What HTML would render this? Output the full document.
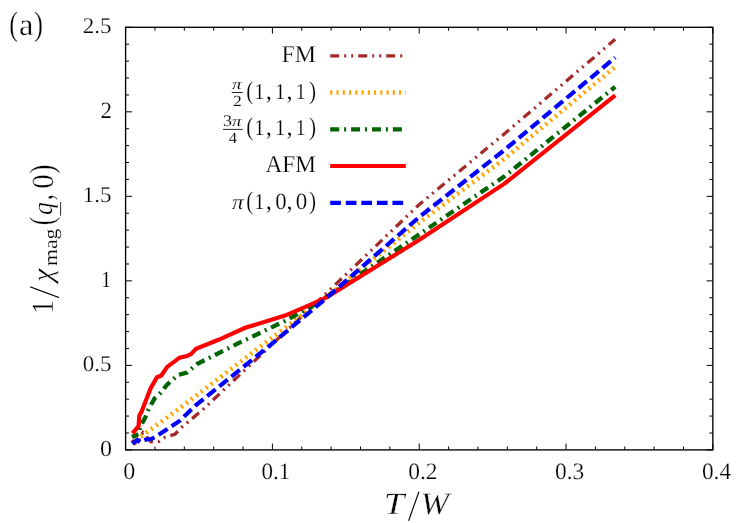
<!DOCTYPE html>
<html><head><meta charset="utf-8"><title>chart</title>
<style>html,body{margin:0;padding:0;background:#fff;width:747px;height:523px;overflow:hidden}</style>
</head><body>
<svg width="747" height="523" viewBox="0 0 747 523" style="position:absolute;left:0;top:0">
<rect width="747" height="523" fill="#fff"/>
<path d="M131.9 440.1 L134.8 443.4 L137.2 440.8 L138.8 443.4 L139.8 437.0 L142.9 432.6 L151.0 441.8 L159.2 441.4 L165.0 437.3 L174.9 434.2 L181.8 427.3 L202.8 409.6 L326.5 293.1 L419.4 204.4 L504.8 133.5 L615.2 39.3" fill="none" stroke="#a52a2a" stroke-width="3.3" stroke-linejoin="miter" stroke-dasharray="9 5 2 5 2 5" stroke-dashoffset="0"/>
<path d="M330.2 55.8 H405.8" fill="none" stroke="#a52a2a" stroke-width="3.3" stroke-dasharray="9 5 2 5 2 5"/>
<path d="M131.6 440.9 L142.9 435.3 L177.4 410.0 L269.0 340.0 L326.5 296.6 L419.4 222.6 L504.8 158.5 L615.2 66.9" fill="none" stroke="#ffa500" stroke-width="4.5" stroke-linejoin="miter" stroke-dasharray="2.2 4.03" stroke-dashoffset="2.27"/>
<path d="M330.2 92.6 H405.8" fill="none" stroke="#ffa500" stroke-width="4.5" stroke-dasharray="2.15 4.108"/>
<path d="M132.0 436.9 L138.9 434.1 L140.0 426.9 L144.9 418.4 L148.8 408.8 L154.8 398.1 L160.8 392.7 L166.8 384.9 L178.0 375.0 L187.0 372.5 L197.0 364.0 L238.5 343.2 L285.0 320.9 L311.2 306.8 L326.5 297.0 L419.4 234.3 L504.8 176.1 L615.2 86.8" fill="none" stroke="#006400" stroke-width="4.3" stroke-linejoin="miter" stroke-dasharray="9 4.895 2 4.895" stroke-dashoffset="2.11"/>
<path d="M330.2 129.3 H405.8" fill="none" stroke="#006400" stroke-width="4.3" stroke-dasharray="9 4.94 2 4.94"/>
<path d="M132.5 433.4 L138.6 426.1 L139.3 415.6 L141.6 411.5 L146.1 400.1 L150.8 388.0 L157.0 377.2 L161.4 375.5 L167.2 366.9 L179.6 357.6 L187.0 356.1 L191.3 353.9 L196.1 348.7 L218.5 339.8 L245.2 327.8 L285.0 315.6 L311.2 304.4 L326.5 297.3 L419.4 239.8 L504.8 183.4 L615.2 95.3" fill="none" stroke="#ff0000" stroke-width="4.2" stroke-linejoin="miter"/>
<path d="M330.2 166.0 H405.8" fill="none" stroke="#ff0000" stroke-width="4.2"/>
<path d="M132.3 443.6 L137.3 440.0 L140.2 442.3 L145.5 439.8 L152.0 438.7 L155.5 436.6 L167.4 429.1 L180.2 420.4 L195.4 405.6 L270.0 345.4 L326.5 297.9 L419.4 216.9 L504.8 149.7 L615.2 57.5" fill="none" stroke="#0000ff" stroke-width="4.2" stroke-linejoin="miter" stroke-dasharray="10.7 4.87" stroke-dashoffset="1.11"/>
<path d="M330.2 202.8 H405.8" fill="none" stroke="#0000ff" stroke-width="4.2" stroke-dasharray="10.7 4.86"/>
<path d="M125.60 449.9 v-6.3 M125.60 27.3 v6.3 M154.96 449.9 v-3.4 M154.96 27.3 v3.4 M184.32 449.9 v-3.4 M184.32 27.3 v3.4 M213.69 449.9 v-3.4 M213.69 27.3 v3.4 M243.05 449.9 v-3.4 M243.05 27.3 v3.4 M272.41 449.9 v-6.3 M272.41 27.3 v6.3 M301.77 449.9 v-3.4 M301.77 27.3 v3.4 M331.14 449.9 v-3.4 M331.14 27.3 v3.4 M360.50 449.9 v-3.4 M360.50 27.3 v3.4 M389.86 449.9 v-3.4 M389.86 27.3 v3.4 M419.23 449.9 v-6.3 M419.23 27.3 v6.3 M448.59 449.9 v-3.4 M448.59 27.3 v3.4 M477.95 449.9 v-3.4 M477.95 27.3 v3.4 M507.31 449.9 v-3.4 M507.31 27.3 v3.4 M536.67 449.9 v-3.4 M536.67 27.3 v3.4 M566.04 449.9 v-6.3 M566.04 27.3 v6.3 M595.40 449.9 v-3.4 M595.40 27.3 v3.4 M624.76 449.9 v-3.4 M624.76 27.3 v3.4 M654.12 449.9 v-3.4 M654.12 27.3 v3.4 M683.49 449.9 v-3.4 M683.49 27.3 v3.4 M712.85 449.9 v-6.3 M712.85 27.3 v6.3 M125.6 449.90 h6.3 M712.85 449.90 h-6.3 M125.6 433.00 h3.4 M712.85 433.00 h-3.4 M125.6 416.09 h3.4 M712.85 416.09 h-3.4 M125.6 399.19 h3.4 M712.85 399.19 h-3.4 M125.6 382.28 h3.4 M712.85 382.28 h-3.4 M125.6 365.38 h6.3 M712.85 365.38 h-6.3 M125.6 348.48 h3.4 M712.85 348.48 h-3.4 M125.6 331.57 h3.4 M712.85 331.57 h-3.4 M125.6 314.67 h3.4 M712.85 314.67 h-3.4 M125.6 297.76 h3.4 M712.85 297.76 h-3.4 M125.6 280.86 h6.3 M712.85 280.86 h-6.3 M125.6 263.96 h3.4 M712.85 263.96 h-3.4 M125.6 247.05 h3.4 M712.85 247.05 h-3.4 M125.6 230.15 h3.4 M712.85 230.15 h-3.4 M125.6 213.24 h3.4 M712.85 213.24 h-3.4 M125.6 196.34 h6.3 M712.85 196.34 h-6.3 M125.6 179.44 h3.4 M712.85 179.44 h-3.4 M125.6 162.53 h3.4 M712.85 162.53 h-3.4 M125.6 145.63 h3.4 M712.85 145.63 h-3.4 M125.6 128.72 h3.4 M712.85 128.72 h-3.4 M125.6 111.82 h6.3 M712.85 111.82 h-6.3 M125.6 94.92 h3.4 M712.85 94.92 h-3.4 M125.6 78.01 h3.4 M712.85 78.01 h-3.4 M125.6 61.11 h3.4 M712.85 61.11 h-3.4 M125.6 44.20 h3.4 M712.85 44.20 h-3.4 M125.6 27.30 h6.3 M712.85 27.30 h-6.3" stroke="#000" stroke-width="1" fill="none"/>
<rect x="125.6" y="27.3" width="587.25" height="422.60" fill="none" stroke="#000" stroke-width="1.35"/>
<g style="font-family:'Liberation Serif',serif;text-rendering:geometricPrecision;fill:#000;stroke:#fff" opacity="0.999">
<text transform="matrix(0.8387 0 0 1.0899 9.342 35.088)" font-size="31" stroke-width="0.33">(</text>
<text transform="matrix(1.05 0 0 1.0035 18.988 35.0)" font-size="31" stroke-width="0.33">a</text>
<text transform="matrix(0.88 0 0 1.0899 34.1 35.088)" font-size="31" stroke-width="0.33">)</text>
<text transform="matrix(1.0703 0 0 1.0203 99.93 455.65)" font-size="22.4" stroke-width="0.2">0</text>
<text transform="matrix(1.0269 0 0 1.0033 82.873 370.879)" font-size="22.4" stroke-width="0.2">0.5</text>
<text transform="matrix(0.9032 0 0 1.0379 100.894 286.869)" font-size="22.4" stroke-width="0.2">1</text>
<text transform="matrix(1.028 0 0 1.0033 82.844 201.839)" font-size="22.4" stroke-width="0.2">1.5</text>
<text transform="matrix(1.0286 0 0 1.0379 100.471 117.829)" font-size="22.4" stroke-width="0.2">2</text>
<text transform="matrix(1.0269 0 0 1.0033 82.873 32.799)" font-size="22.4" stroke-width="0.2">2.5</text>
<text transform="matrix(1.0703 0 0 1.0712 123.23 478.9)" font-size="22.4" stroke-width="0.2">0</text>
<text transform="matrix(1.0314 0 0 1.0533 261.469 478.637)" font-size="22.4" stroke-width="0.2">0.1</text>
<text transform="matrix(1.0485 0 0 1.0533 408.151 478.637)" font-size="22.4" stroke-width="0.2">0.2</text>
<text transform="matrix(1.0462 0 0 1.0533 555.054 478.637)" font-size="22.4" stroke-width="0.2">0.3</text>
<text transform="matrix(1.0415 0 0 1.0533 701.958 478.637)" font-size="22.4" stroke-width="0.2">0.4</text>
<text transform="matrix(1.2508 0 0 1.0507 383.686 513.963)" font-size="29.5" stroke-width="0.33" font-style="italic">T</text>
<text transform="matrix(1.1588 0 0 1.0597 420.493 514.135)" font-size="29.5" stroke-width="0.33" font-style="italic">W</text>
<text transform="matrix(1.0634 0 0 1.0807 281.602 61.87)" font-size="22.4" stroke-width="0.2">FM</text>
<text transform="matrix(1.0379 0 0 1.0759 265.541 171.669)" font-size="22.4" stroke-width="0.2">AFM</text>
<text transform="matrix(0.9455 0 0 1.1316 246.155 98.908)" font-size="22.4" stroke-width="0.2">(</text>
<text transform="matrix(0.9455 0 0 1.1316 308.891 98.908)" font-size="22.4" stroke-width="0.2">)</text>
<text transform="matrix(0.9161 0 0 1.0069 254.168 98.852)" font-size="22.4" stroke-width="0.2">1</text>
<text transform="matrix(0.9161 0 0 1.0069 275.068 98.852)" font-size="22.4" stroke-width="0.2">1</text>
<text transform="matrix(0.9161 0 0 1.0069 295.568 98.852)" font-size="22.4" stroke-width="0.2">1</text>
<text transform="matrix(1.1 0 0 1.1091 265.7 98.995)" font-size="22.4" stroke-width="0.2">,</text>
<text transform="matrix(1.1 0 0 1.1091 286.5 98.995)" font-size="22.4" stroke-width="0.2">,</text>
<text transform="matrix(0.9455 0 0 1.1316 246.155 135.208)" font-size="22.4" stroke-width="0.2">(</text>
<text transform="matrix(0.9455 0 0 1.1316 308.891 135.208)" font-size="22.4" stroke-width="0.2">)</text>
<text transform="matrix(0.9161 0 0 1.0069 254.168 135.152)" font-size="22.4" stroke-width="0.2">1</text>
<text transform="matrix(0.9161 0 0 1.0069 275.068 135.152)" font-size="22.4" stroke-width="0.2">1</text>
<text transform="matrix(0.9161 0 0 1.0069 295.568 135.152)" font-size="22.4" stroke-width="0.2">1</text>
<text transform="matrix(1.1 0 0 1.1091 265.7 135.295)" font-size="22.4" stroke-width="0.2">,</text>
<text transform="matrix(1.1 0 0 1.1091 286.5 135.295)" font-size="22.4" stroke-width="0.2">,</text>
<text transform="matrix(0.9455 0 0 1.1316 246.155 209.008)" font-size="22.4" stroke-width="0.2">(</text>
<text transform="matrix(0.9455 0 0 1.1316 308.891 209.008)" font-size="22.4" stroke-width="0.2">)</text>
<text transform="matrix(0.9161 0 0 1.0069 254.168 208.952)" font-size="22.4" stroke-width="0.2">1</text>
<text transform="matrix(1.0162 0 0 1.0441 275.284 209.2)" font-size="22.4" stroke-width="0.2">0</text>
<text transform="matrix(1.027 0 0 1.0441 295.873 209.2)" font-size="22.4" stroke-width="0.2">0</text>
<text transform="matrix(1.1 0 0 1.1091 265.7 209.095)" font-size="22.4" stroke-width="0.2">,</text>
<text transform="matrix(1.1 0 0 1.1091 286.5 209.095)" font-size="22.4" stroke-width="0.2">,</text>
<text transform="matrix(1.0489 0 0 0.9463 231.938 208.7)" font-size="22.4" stroke-width="0.2" font-style="italic">π</text>
<text transform="matrix(1.2387 0 0 0.9379 231.99 89.4)" font-size="15.7" stroke-width="0.1" font-style="italic">π</text>
<text transform="matrix(1.12 0 0 0.9854 233.06 105.7)" font-size="15.7" stroke-width="0.1">2</text>
<text transform="matrix(1.1538 0 0 1.0341 223.035 126.2)" font-size="15.7" stroke-width="0.1">3</text>
<text transform="matrix(1.2258 0 0 0.9379 232.094 126.0)" font-size="15.7" stroke-width="0.1" font-style="italic">π</text>
<text transform="matrix(1.0571 0 0 1.0049 228.671 142.6)" font-size="15.7" stroke-width="0.1">4</text>
<g transform="translate(0,312) rotate(-90)">
<text transform="matrix(0.94 0 0 1.0553 -1.785 52.564)" font-size="29.5" stroke-width="0.33">1</text>
<text transform="matrix(1.0098 0 0 0.9792 30.32 52.075)" font-size="29.5" stroke-width="0.33" font-style="italic">χ</text>
<text transform="matrix(1.0536 0 0 0.922 45.923 56.981)" font-size="20.7" stroke-width="0.2">mag</text>
<text transform="matrix(0.8552 0 0 1.1615 86.817 53.031)" font-size="29.5" stroke-width="0.33">(</text>
<text transform="matrix(0.872 0 0 0.9544 97.01 52.223)" font-size="29.5" stroke-width="0.33" font-style="italic">q</text>
<text transform="matrix(0.825 0 0 1.2071 111.669 52.42)" font-size="29.5" stroke-width="0.33">,</text>
<text transform="matrix(0.9796 0 0 1.0436 123.276 52.6)" font-size="29.5" stroke-width="0.33">0</text>
<text transform="matrix(0.95 0 0 1.1573 138.162 52.946)" font-size="29.5" stroke-width="0.33">)</text>
<path d="M14.45 59.0 L25.15 30.2" stroke="#000" stroke-width="1.15" fill="none"/>
<path d="M96.3 60.6 H110.0" stroke="#000" stroke-width="0.85" fill="none"/>
</g>
</g>
<path d="M408.6 520.9 L418.9 491.8" stroke="#000" stroke-width="1.15" fill="none"/>
<path d="M231.7 92.5 H242.8 M223.0 129.4 H242.8" stroke="#000" stroke-width="0.85" fill="none"/>
</svg>
</body></html>
